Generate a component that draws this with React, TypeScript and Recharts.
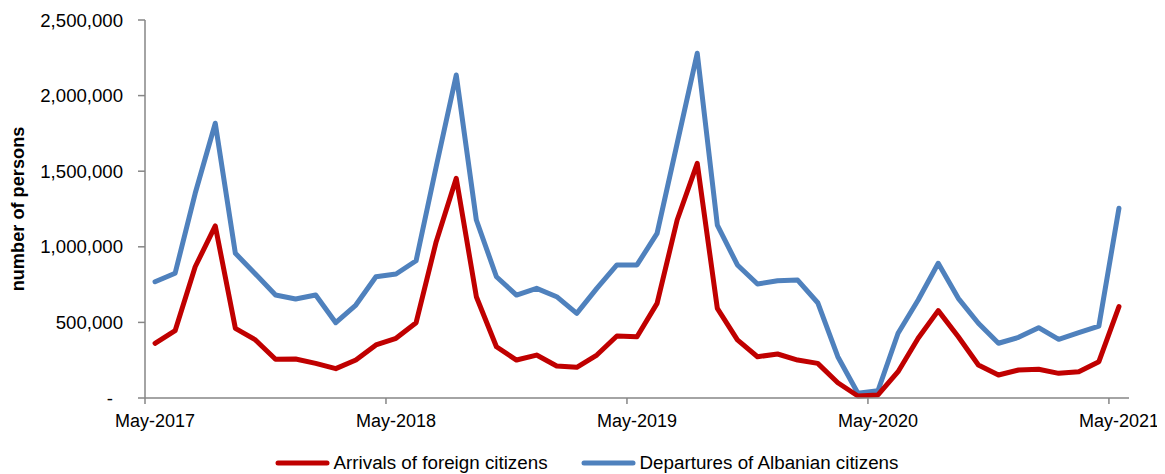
import React from 'react';
import { LineChart, Line, XAxis, YAxis, Legend } from 'recharts';

const months = [
  'May-2017', 'Jun-2017', 'Jul-2017', 'Aug-2017', 'Sep-2017', 'Oct-2017', 'Nov-2017', 'Dec-2017',
  'Jan-2018', 'Feb-2018', 'Mar-2018', 'Apr-2018', 'May-2018', 'Jun-2018', 'Jul-2018', 'Aug-2018',
  'Sep-2018', 'Oct-2018', 'Nov-2018', 'Dec-2018', 'Jan-2019', 'Feb-2019', 'Mar-2019', 'Apr-2019',
  'May-2019', 'Jun-2019', 'Jul-2019', 'Aug-2019', 'Sep-2019', 'Oct-2019', 'Nov-2019', 'Dec-2019',
  'Jan-2020', 'Feb-2020', 'Mar-2020', 'Apr-2020', 'May-2020', 'Jun-2020', 'Jul-2020', 'Aug-2020',
  'Sep-2020', 'Oct-2020', 'Nov-2020', 'Dec-2020', 'Jan-2021', 'Feb-2021', 'Mar-2021', 'Apr-2021',
  'May-2021',
];

const arrivals = [
  362000, 445000, 868000, 1138000, 461000, 384000, 256000, 258000, 229000, 194000, 251000, 351000,
  395000, 498000, 1034000, 1453000, 670000, 339000, 251000, 284000, 212000, 203000, 284000, 410000,
  405000, 626000, 1177000, 1552000, 593000, 384000, 273000, 291000, 251000, 229000, 101000, 13000,
  20000, 174000, 395000, 578000, 405000, 218000, 152000, 185000, 190000, 163000, 174000, 240000,
  604000,
];

const departures = [
  769000, 825000, 1354000, 1817000, 957000, 820000, 681000, 655000, 681000, 498000, 615000, 802000,
  820000, 908000, 1530000, 2136000, 1177000, 802000, 681000, 725000, 670000, 560000, 725000, 880000,
  880000, 1089000, 1684000, 2280000, 1144000, 880000, 754000, 776000, 780000, 630000, 273000, 31000,
  48000, 428000, 648000, 891000, 659000, 494000, 362000, 401000, 465000, 388000, 432000, 476000,
  1255000,
];

const xTickIdx = [0, 12, 24, 36, 48];
const yTicks = [0, 500000, 1000000, 1500000, 2000000, 2500000];

const seriesNames = ['Arrivals of foreign citizens', 'Departures of Albanian citizens'];
const RED = '#C00000';
const BLUE = '#4F81BD';
const AXIS = '#868686';
const FONT = "Arial, 'Liberation Sans', sans-serif";

const data = months.map((m, i) => ({ idx: i, month: m, arrivals: arrivals[i], departures: departures[i] }));

const W = 1157;
const H = 466;
const MARGIN = { top: 12, right: 36, left: 0, bottom: 0 };
const Y_W = 137;
const PLOT_W = W - MARGIN.right - Y_W;
const HALF_BAND = PLOT_W / months.length / 2;

const XTick = (props: any) => {
  const { x, y, payload } = props;
  const lx = x - HALF_BAND;
  return (
    <g>
      <line x1={lx} x2={lx} y1={y - 6} y2={y} stroke={AXIS} strokeWidth={1.5} />
      <text x={x} y={y + 23} textAnchor="middle" fontSize={18} fontFamily={FONT} fill="#000">
        {months[payload.value]}
      </text>
    </g>
  );
};

const YTick = (props: any) => {
  const { x, y, payload } = props;
  const v = payload.value;
  const label = v === 0 ? '-' : v.toLocaleString('en-US');
  return (
    <text x={v === 0 ? x - 10 : x} y={y} dy="0.36em" textAnchor="end" fontSize={18.6} fontFamily={FONT} fill="#000">
      {label}
    </text>
  );
};

const LegendContent = () => (
  <div style={{ width: W, display: 'flex', justifyContent: 'center', alignItems: 'center', fontFamily: FONT, fontSize: 18.8, color: '#000', height: 22 }}>
    {[RED, BLUE].map((c, i) => (
      <div key={i} style={{ display: 'flex', alignItems: 'center', marginLeft: i ? 33 : 0 }}>
        <svg width={55} height={8} style={{ marginRight: 4 }}>
          <line x1={3} x2={52} y1={4} y2={4} stroke={c} strokeWidth={5} strokeLinecap="round" />
        </svg>
        <span>{seriesNames[i]}</span>
      </div>
    ))}
  </div>
);

const YLabel = (props: any) => {
  const vb = props.viewBox || { x: 0, y: 12, height: 378 };
  const cx = vb.x + 10;
  const cy = vb.y + vb.height / 2;
  return (
    <text x={cx} y={cy} transform={`rotate(-90, ${cx}, ${cy})`} textAnchor="middle" dominantBaseline="central"
      fontSize={18.2} fontWeight="bold" fontFamily={FONT} fill="#000">
      number of persons
    </text>
  );
};

export default function App() {
  return (
    <div style={{ width: W, height: H, background: '#fff' }}>
      <LineChart width={W} height={H} data={data} margin={MARGIN}>
        <XAxis
          dataKey="idx"
          type="number"
          domain={[-0.5, months.length - 0.5]}
          ticks={xTickIdx}
          interval={0}
          height={54}
          axisLine={{ stroke: AXIS, strokeWidth: 1.5 }}
          tickLine={false}
          tickSize={6}
          tickMargin={0}
          tick={<XTick />}
        />
        <YAxis
          type="number"
          domain={[0, 2500000]}
          ticks={yTicks}
          width={Y_W}
          interval={0}
          axisLine={{ stroke: AXIS, strokeWidth: 1.5 }}
          tickLine={{ stroke: AXIS, strokeWidth: 1.5 }}
          tickSize={7}
          tickMargin={15}
          tick={<YTick />}
          label={{ content: <YLabel /> }}
        />
        <Legend verticalAlign="bottom" height={22} width={W} wrapperStyle={{ left: 0, width: W }} content={<LegendContent />} />
        <Line type="linear" dataKey="departures" stroke={BLUE} strokeWidth={5} dot={false}
          strokeLinejoin="round" strokeLinecap="round" isAnimationActive={false} />
        <Line type="linear" dataKey="arrivals" stroke={RED} strokeWidth={5} dot={false}
          strokeLinejoin="round" strokeLinecap="round" isAnimationActive={false} />
      </LineChart>
    </div>
  );
}
